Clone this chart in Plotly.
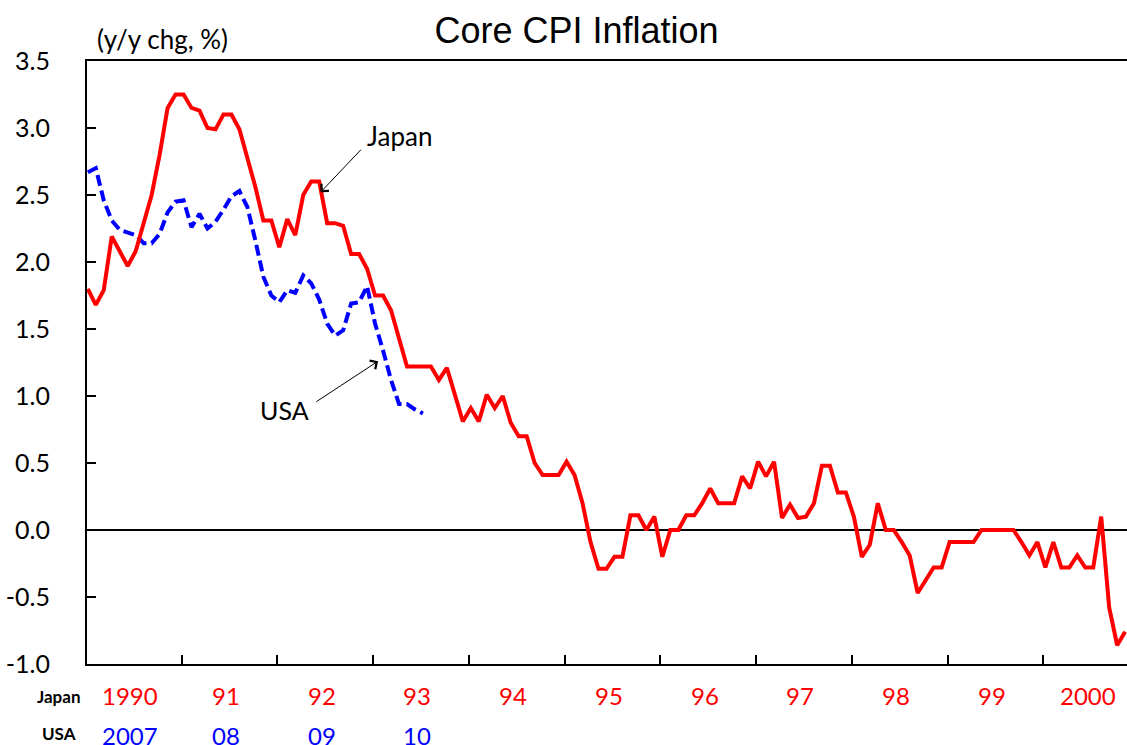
import plotly.graph_objects as go

# Japan core CPI, monthly from Jan 1990 (y/y %)
japan_cpi = [
    1.80, 1.68, 1.79, 2.19, 2.08, 1.97, 2.08, 2.29, 2.50, 2.80, 3.15, 3.25,
    3.25, 3.15, 3.13, 3.00, 2.99, 3.10, 3.10, 2.99, 2.78, 2.56, 2.31, 2.31,
    2.11, 2.32, 2.20, 2.50, 2.60, 2.60, 2.29, 2.29, 2.27, 2.06, 2.06, 1.95,
    1.75, 1.75, 1.64, 1.43, 1.22, 1.22, 1.22, 1.22, 1.12, 1.21, 1.01, 0.81,
    0.91, 0.81, 1.01, 0.91, 1.00, 0.80, 0.70, 0.70, 0.50, 0.41, 0.41, 0.41,
    0.51, 0.41, 0.20, -0.09, -0.29, -0.29, -0.20, -0.20, 0.11, 0.11, 0.00, 0.10,
    -0.20, 0.00, 0.00, 0.11, 0.11, 0.20, 0.31, 0.20, 0.20, 0.20, 0.40, 0.31,
    0.51, 0.40, 0.51, 0.09, 0.19, 0.09, 0.10, 0.20, 0.48, 0.48, 0.28, 0.28,
    0.10, -0.20, -0.11, 0.20, 0.00, 0.00, -0.09, -0.19, -0.47, -0.38, -0.28, -0.28,
    -0.09, -0.09, -0.09, -0.09, 0.00, 0.00, 0.00, 0.00, 0.00, -0.09, -0.19, -0.09,
    -0.28, -0.09, -0.28, -0.28, -0.19, -0.28, -0.28, 0.10, -0.58, -0.86, -0.76,
]

# USA core CPI, monthly from Jan 2007 (y/y %)
usa_cpi = [
    2.67, 2.70, 2.46, 2.31, 2.24, 2.22, 2.20, 2.14, 2.14, 2.21, 2.37, 2.45,
    2.46, 2.26, 2.36, 2.25, 2.30, 2.39, 2.49, 2.53, 2.41, 2.16, 1.89, 1.75,
    1.70, 1.79, 1.77, 1.90, 1.84, 1.72, 1.54, 1.45, 1.49, 1.69, 1.70, 1.82,
    1.54, 1.34, 1.12, 0.94, 0.94, 0.90, 0.87,
]

japan_years = ["1990", "91", "92", "93", "94", "95", "96", "97", "98", "99", "2000"]
usa_years = ["2007", "08", "09", "10"]

y_ticks = [3.5, 3.0, 2.5, 2.0, 1.5, 1.0, 0.5, 0.0, -0.5, -1.0]
y_labels = [f"{v:.1f}" for v in y_ticks]

months_jp = list(range(len(japan_cpi)))
months_us = list(range(len(usa_cpi)))

W, H = 1127, 745
L, R, T, B = 87, 1127, 61, 664


def px(x):
    return (x - L) / (R - L)


def py(y):
    return (B - y) / (B - T)


fig = go.Figure()
fig.add_trace(go.Scatter(x=months_us, y=usa_cpi, mode="lines",
                         line=dict(color="#0000FF", width=4, dash="11px,5px"),
                         hoverinfo="skip"))
fig.add_trace(go.Scatter(x=months_jp, y=japan_cpi, mode="lines",
                         line=dict(color="#FF0000", width=4),
                         hoverinfo="skip"))

calibri = "Lato, Carlito, Calibri, sans-serif"
ann = []

# year labels under the axis
for k, lab in enumerate(japan_years):
    ann.append(dict(x=12 * k + 5.3, y=py(695), xref="x", yref="paper",
                    text=lab, showarrow=False, xanchor="center", yanchor="middle",
                    font=dict(family=calibri, size=24, color="#FF0000")))
for k, lab in enumerate(usa_years):
    ann.append(dict(x=12 * k + 5.3, y=py(736), xref="x", yref="paper",
                    text=lab, showarrow=False, xanchor="center", yanchor="middle",
                    font=dict(family=calibri, size=24, color="#0000FF")))

ann.append(dict(x=px(59), y=py(696), xref="paper", yref="paper", text="<b>Japan</b>",
                showarrow=False, xanchor="center", yanchor="middle",
                font=dict(family=calibri, size=17, color="black")))
ann.append(dict(x=px(59), y=py(733), xref="paper", yref="paper", text="<b>USA</b>",
                showarrow=False, xanchor="center", yanchor="middle",
                font=dict(family=calibri, size=17, color="black")))

ann.append(dict(x=px(95), y=py(39), xref="paper", yref="paper", text="(y/y chg, %)",
                showarrow=False, xanchor="left", yanchor="middle",
                font=dict(family=calibri, size=26, color="black")))

# series labels with arrows
ann.append(dict(x=px(399), y=py(136), xref="paper", yref="paper", text="Japan",
                showarrow=False, xanchor="center", yanchor="middle",
                font=dict(family=calibri, size=26, color="black")))
ann.append(dict(x=px(284), y=py(410), xref="paper", yref="paper", text="USA",
                showarrow=False, xanchor="center", yanchor="middle",
                font=dict(family=calibri, size=25, color="black")))
ann.append(dict(x=29.16, y=2.52, ax=34.42, ay=2.85, xref="x", yref="y",
                axref="x", ayref="y", text="", showarrow=True,
                arrowhead=4, arrowsize=2, arrowwidth=1, arrowcolor="black"))
ann.append(dict(x=36.38, y=1.26, ax=28.45, ay=0.95, xref="x", yref="y",
                axref="x", ayref="y", text="", showarrow=True,
                arrowhead=4, arrowsize=2, arrowwidth=1, arrowcolor="black"))

fig.update_layout(
    width=W, height=H,
    margin=dict(l=L, r=W - R, t=T, b=H - B),
    paper_bgcolor="white", plot_bgcolor="white",
    showlegend=False,
    title=dict(text="Core CPI Inflation", x=px(576.5), xref="paper",
               y=1 - 30 / H, yref="container",
               xanchor="center", yanchor="middle",
               font=dict(family="Liberation Sans, Arial, sans-serif", size=36,
                         color="black")),
    annotations=ann,
)

fig.update_xaxes(
    range=[-0.1, 130.23],
    tickvals=[12 * k - 0.25 for k in range(1, 11)],
    ticktext=[""] * 10,
    ticks="inside", ticklen=9, tickwidth=1.5, tickcolor="black",
    showline=True, linecolor="black", linewidth=2, mirror=True,
    showgrid=False, zeroline=False,
)
fig.update_yaxes(
    range=[-1.0, 3.5],
    tickvals=y_ticks, ticktext=y_labels,
    ticks="inside", ticklen=9, tickwidth=1.5, tickcolor="black",
    ticklabelstandoff=30,
    tickfont=dict(family=calibri, size=25, color="black"),
    showline=True, linecolor="black", linewidth=2,
    showgrid=False, zeroline=True, zerolinecolor="black", zerolinewidth=1.5,
)

# page with no body margin and no scrollbars, chart fills the window
fig.write_html("out.html", config={"responsive": False, "displayModeBar": False},
               post_script=(
                   "document.body.style.margin='0';"
                   "document.documentElement.style.overflow='hidden';"
                   "document.body.style.overflow='hidden';"))
